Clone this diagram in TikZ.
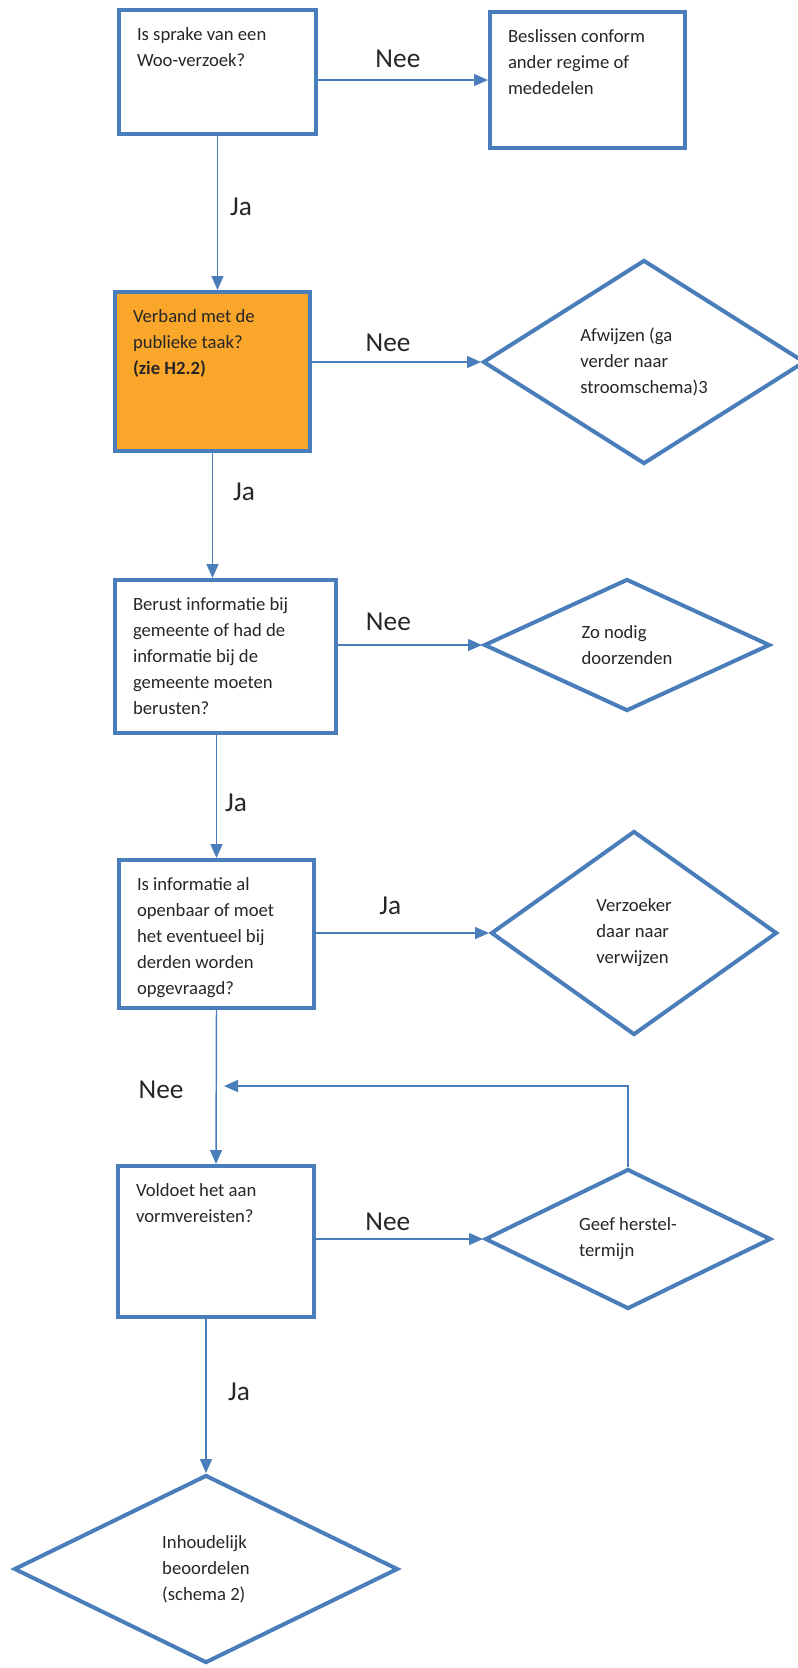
\documentclass[tikz,border=0pt]{standalone}
\usepackage{fontspec}
\setmainfont{Carlito}
\usetikzlibrary{shapes.geometric,arrows.meta}
\definecolor{lijnblauw}{HTML}{4A7EBB}
\definecolor{oranje}{HTML}{F9A62B}
\definecolor{tekst}{HTML}{262626}
\newcommand{\vakje}[3]{\parbox[c][#2][t]{#1}{\raggedright\leftskip=13.5pt\rule{0pt}{22.5pt}#3}}

\begin{document}
\begin{tikzpicture}[x=0.75pt,y=-0.75pt,
	vak/.style={draw=lijnblauw,line width=3pt,inner sep=0pt,text=tekst,font=\fontsize{14}{19.5}\selectfont},
	ruit/.style={diamond,draw=lijnblauw,line width=3pt,inner sep=0pt,align=left,text=tekst,font=\fontsize{14}{19.5}\selectfont},
	pijl/.style={draw=lijnblauw,line width=1.1pt,-{Triangle[length=10.5pt,width=9pt]}},
	antw/.style={text=tekst,inner sep=0pt,font=\fontsize{20.5}{24}\selectfont}]
	\useasboundingbox (0,0) rectangle (797,1668);
	\node[vak] (woo) at (217.5,72) {\vakje{147.75pt}{93pt}{Is sprake van een\\Woo-verzoek?}};
	\node[vak] (regime) at (587.5,80) {\vakje{146.25pt}{102pt}{Beslissen conform\\ander regime of\\mededelen}};
	\node[vak,fill=oranje] (taak) at (212.5,371.5) {\vakje{146.25pt}{119.25pt}{Verband met de\\publieke taak?\\\textbf{(zie H2.2)}}};
	\node[ruit,minimum width=241.5pt,minimum height=153pt] (afwijzen) at (644,362) {Afwijzen (ga\\verder naar\\stroomschema)3};
	\node[vak] (berust) at (225.5,656.5) {\vakje{165.75pt}{114.75pt}{Berust informatie bij\\gemeente of had de\\informatie bij de\\gemeente moeten\\berusten?}};
	\node[ruit,minimum width=214.5pt,minimum height=99pt] (zonodig) at (627,645) {Zo nodig\\doorzenden};
	\node[vak] (openbaar) at (216.5,934) {\vakje{146.25pt}{111pt}{Is informatie al\\openbaar of moet\\het eventueel bij\\derden worden\\opgevraagd?}};
	\node[ruit,minimum width=214.5pt,minimum height=153pt] (verzoeker) at (634,933) {Verzoeker\\daar naar\\verwijzen};
	\node[vak] (vorm) at (216,1241.5) {\vakje{147pt}{113.25pt}{Voldoet het aan\\vormvereisten?}};
	\node[ruit,minimum width=214.5pt,minimum height=99pt] (herstel) at (628,1239) {Geef herstel-\\termijn};
	\node[ruit,minimum width=288pt,minimum height=141pt] (inhoud) at (206,1569) {Inhoudelijk\\beoordelen\\(schema 2)};
	\coordinate (terug) at (224,1086);

	\draw[pijl] (woo.east |- regime.west) -- node[antw,above=8.4pt,pos=.47]{Nee} (regime.west);
	\draw[pijl] (woo.south) -- node[antw,right=9pt,pos=.46]{Ja} (woo.south |- taak.north);
	\draw[pijl] (taak.east |- afwijzen.west) -- node[antw,above=7pt,pos=.45]{Nee} (afwijzen.west);
	\draw[pijl] (taak.south) -- node[antw,right=15pt,pos=.31]{Ja} (taak.south |- berust.north);
	\draw[pijl] (berust.east |- zonodig.west) -- node[antw,above=10pt,pos=.35]{Nee} (zonodig.west);
	\draw[pijl] (berust.south -| openbaar.north) -- node[antw,right=6pt,pos=.55]{Ja} (openbaar.north);
	\draw[pijl] (openbaar.east |- verzoeker.west) -- node[antw,above=13pt,pos=.43]{Ja} (verzoeker.west);
	\draw[pijl] (openbaar.south) -- node[antw,left=24pt,pos=.52]{Nee} (vorm.north);
	\draw[pijl] (vorm.east |- herstel.west) -- node[antw,above=6pt,pos=.43]{Nee} (herstel.west);
	\draw[pijl] (vorm.south -| inhoud.north) -- node[antw,right=16pt,pos=.47]{Ja} (inhoud.north);
	\draw[pijl] (herstel.north) |- (terug);
\end{tikzpicture}
\end{document}
